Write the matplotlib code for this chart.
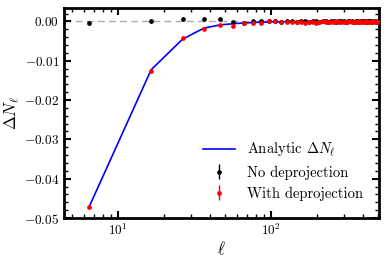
import numpy as np
import matplotlib
matplotlib.use("Agg")
import matplotlib.pyplot as plt
from matplotlib.ticker import MultipleLocator, LogLocator, NullFormatter

plt.rcParams['font.family'] = 'serif'
plt.rcParams['font.serif'] = ['cmr10', 'DejaVu Serif']
plt.rcParams['mathtext.fontset'] = 'cm'
plt.rcParams['axes.formatter.use_mathtext'] = True
plt.rcParams['axes.unicode_minus'] = True

ell = np.arange(6.5, 500, 10.0)

analytic = [-0.0472, -0.0123, -0.0045, -0.0017, -0.0009, -0.0006, -0.0004, -0.0003,
            -0.0002, -0.00015, -0.0001, -0.0001, -0.00008, -0.00006, -0.00005,
            -0.00004, -0.00004, -0.00003, -0.00003, -0.00003, -0.00002, -0.00002,
            -0.00002, -0.00002, -0.00002, -0.00001, -0.00001, -0.00001, -0.00001,
            -0.00001, -0.00001, -0.00001, -0.00001, -0.00001, -0.00001, -0.00001,
            -0.00001, -0.00001, -0.00001, -0.00001, -0.00001, -0.00001, -0.00001,
            -0.00001, -0.00001, -0.00001, -0.00001, -0.00001, -0.00001, -0.00001]

no_deproj = [-0.0004, 0.0000, 0.0007, 0.0007, 0.0007, -0.0002, -0.0005, 0.0002,
             0.0001, 0.0001, 0.0000, -0.0001, 0.0001, 0.0000, -0.0001, 0.0000,
             0.0001, -0.0001, 0.0000, 0.0001, -0.0001, 0.0000, 0.0000, -0.0001,
             0.0001, 0.0000, -0.0001, 0.0000, 0.0001, 0.0000, -0.0001, 0.0000,
             0.0000, 0.0001, -0.0001, 0.0000, 0.0000, -0.0001, 0.0000, 0.0001,
             0.0000, -0.0001, 0.0000, 0.0000, 0.0001, -0.0001, 0.0000, 0.0000,
             -0.0001, 0.0000]
no_deproj_err = [0.0006, 0.0003, 0.0002, 0.00015, 0.00012, 0.0001, 0.0001, 0.0001,
                 0.0001, 0.0001] + [0.00008] * 40

with_deproj = [-0.0472, -0.0125, -0.0043, -0.0019, -0.0009, -0.0011, -0.0003, -0.0003,
               -0.0003, 0.0001, 0.0000, -0.0001, -0.0001, -0.0002, -0.0001, -0.0002,
               -0.0003, -0.0002, -0.0001, -0.0003, -0.0001, 0.0000, -0.0002, -0.0001,
               -0.0002, -0.0001, 0.0000, -0.0002, -0.0001, -0.0002, -0.0001, -0.0001,
               0.0000, -0.0002, -0.0001, -0.0001, -0.0002, 0.0000, -0.0001, -0.0002,
               -0.0001, 0.0000, -0.0001, -0.0002, -0.0001, -0.0001, 0.0000, -0.0002,
               -0.0001, -0.0001]
with_deproj_err = [0.0004, 0.0003, 0.0002, 0.00015, 0.00012, 0.0001, 0.0001, 0.0001,
                   0.0001, 0.0001] + [0.00008] * 40

fig = plt.figure(figsize=(3.88, 2.60), dpi=100)
ax = fig.add_axes([64/388, 1 - 218/260, (379 - 64)/388, (218 - 8)/260])

ax.axhline(0, color='#aaaaaa', ls='--', lw=1.0, dashes=(5, 3), zorder=1)
ax.plot(ell, analytic, color='blue', lw=1.2, label=r'Analytic $\Delta N_\ell$', zorder=2)
ax.errorbar(ell, no_deproj, yerr=no_deproj_err, fmt='o', color='black', ms=2.4,
            elinewidth=1.0, capsize=0, label='No deprojection', zorder=3)
ax.errorbar(ell, with_deproj, yerr=with_deproj_err, fmt='o', color='red', ms=2.4,
            elinewidth=1.0, capsize=0, label='With deprojection', zorder=4)

ax.set_xscale('log')
ax.set_xlim(4.46, 505)
ax.set_ylim(-0.05, 0.0034)
ax.yaxis.set_major_locator(MultipleLocator(0.01))
ax.yaxis.set_minor_locator(MultipleLocator(0.002))
ax.xaxis.set_minor_locator(LogLocator(base=10, subs=np.arange(2, 10)))
ax.xaxis.set_minor_formatter(NullFormatter())
ax.yaxis.set_major_formatter(matplotlib.ticker.FuncFormatter(
    lambda v, p: r'$%s$' % ('%.2f' % v) if abs(v) > 1e-9 else r'$0.00$'))

for s in ax.spines.values():
    s.set_linewidth(2.0)
ax.tick_params(which='both', direction='in', top=True, right=True, labelsize=9.5)
ax.tick_params(which='major', length=5, width=1.5)
ax.tick_params(which='minor', length=3, width=1.0)

ax.set_xlabel(r'$\ell$', fontsize=12, labelpad=1)
ax.set_ylabel(r'$\Delta N_\ell$', fontsize=12, labelpad=1)

ax.legend(loc='lower right', frameon=False, fontsize=10.5, handlelength=2.2,
          handletextpad=0.8, borderaxespad=0.5, labelspacing=0.45,
          bbox_to_anchor=(0.99, 0.02))

fig.savefig('out.png', dpi=100)
